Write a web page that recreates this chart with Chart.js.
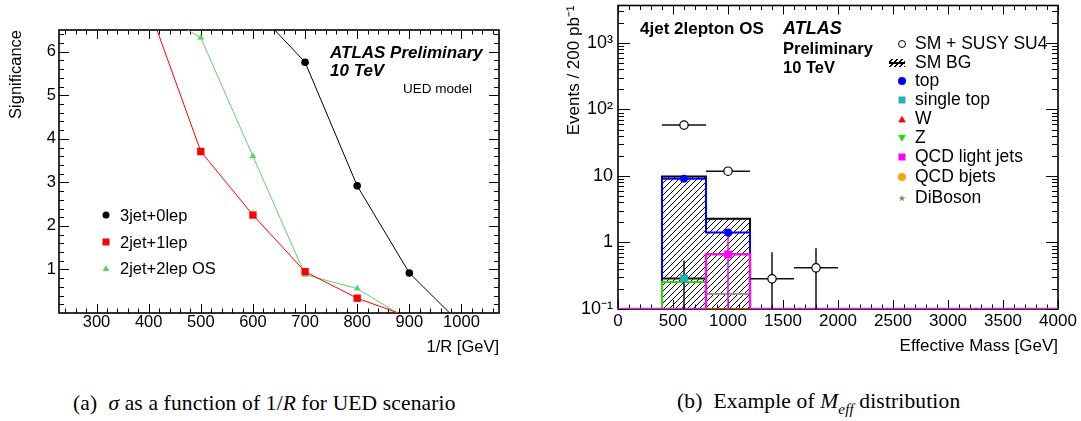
<!DOCTYPE html>
<html>
<head>
<meta charset="utf-8">
<script src="https://cdn.jsdelivr.net/npm/chart.js@4.4.1/dist/chart.umd.min.js"></script>
<style>
  html, body { margin: 0; padding: 0; background: #fff; }
  #page { position: relative; width: 1081px; height: 421px; overflow: hidden;
          font-family: "Liberation Sans", Arial, Helvetica, sans-serif; color: #000; }
  .panel { position: absolute; top: 0; }
  .t { position: absolute; line-height: 1; white-space: nowrap; transform: translateY(-50%); }
  .b { font-weight: bold; }
  .bi { font-weight: bold; font-style: italic; }
  .mk { position: absolute; transform: translate(-50%, -50%); }
  .circ { border-radius: 50%; }
  .tri-up { clip-path: polygon(50% 0, 100% 100%, 0 100%); }
  .tri-dn { clip-path: polygon(0 0, 100% 0, 50% 100%); }
  .star { clip-path: polygon(50% 0, 61% 35%, 98% 35%, 68% 57%, 79% 91%, 50% 70%, 21% 91%, 32% 57%, 2% 35%, 39% 35%); }
  .cap { position: absolute; top: 404px; transform: translateY(-50%); line-height: 1; white-space: nowrap;
         font-family: "Liberation Serif", "Times New Roman", serif; font-size: 21.5px; letter-spacing: 0.15px; }
</style>
</head>
<body>
<div id="page">
  <div class="panel" style="left:0;width:520px;height:360px"><canvas id="ued" width="520" height="360"></canvas></div>
  <div class="panel" style="left:540px;width:541px;height:360px"><canvas id="meff" width="541" height="360"></canvas></div>

  <!-- (a) annotations -->
  <div class="t bi" style="left:330px;top:52px;font-size:17px">ATLAS Preliminary</div>
  <div class="t bi" style="left:330px;top:70px;font-size:17px">10 TeV</div>
  <div class="t" style="left:403px;top:89px;font-size:13.5px">UED model</div>

  <div class="mk circ" style="left:106px;top:215px;width:7px;height:7px;background:#000"></div>
  <div class="mk" style="left:106px;top:242px;width:7px;height:7px;background:#ff0000"></div>
  <div class="mk tri-up" style="left:106px;top:268px;width:7px;height:6px;background:#5ed25e"></div>
  <div class="t" style="left:120px;top:215px;font-size:16.5px">3jet+0lep</div>
  <div class="t" style="left:120px;top:242px;font-size:16.5px">2jet+1lep</div>
  <div class="t" style="left:120px;top:268px;font-size:16.5px">2jet+2lep OS</div>

  <!-- (b) annotations -->
  <div class="t b" style="left:640px;top:28px;font-size:17px">4jet 2lepton OS</div>
  <div class="t bi" style="left:783px;top:28px;font-size:18px">ATLAS</div>
  <div class="t b" style="left:783px;top:47.5px;font-size:16.5px">Preliminary</div>
  <div class="t b" style="left:783px;top:66.5px;font-size:16.5px">10 TeV</div>

  <div class="mk circ" style="left:902px;top:44px;width:6px;height:6px;border:1.2px solid #000;background:#fff"></div>
  <div class="mk" style="left:897px;top:62.7px;width:16px;height:8px;
       background:repeating-linear-gradient(-45deg,#000 0 1px,transparent 1px 3.5px)"></div>
  <div class="mk" style="left:897px;top:62.7px;width:16px;height:2px;background:#000"></div>
  <div class="mk circ" style="left:902px;top:81px;width:8px;height:8px;background:#0000ff"></div>
  <div class="mk" style="left:902px;top:100px;width:7px;height:7px;background:#20b5ae"></div>
  <div class="mk tri-up" style="left:902px;top:119.3px;width:8px;height:7px;background:#ff0000"></div>
  <div class="mk tri-dn" style="left:902px;top:138.3px;width:8px;height:7px;background:#22e000"></div>
  <div class="mk" style="left:902px;top:157.3px;width:7px;height:7px;background:#ff00ff"></div>
  <div class="mk circ" style="left:902px;top:177.3px;width:8px;height:8px;background:#ffa010"></div>
  <div class="mk star" style="left:902px;top:198.3px;width:7px;height:7px;background:#9a7060"></div>
  <div class="t" style="left:915px;top:44px;font-size:17.5px">SM + SUSY SU4</div>
  <div class="t" style="left:915px;top:62.7px;font-size:17.5px">SM BG</div>
  <div class="t" style="left:915px;top:81px;font-size:17.5px">top</div>
  <div class="t" style="left:915px;top:100px;font-size:17.5px">single top</div>
  <div class="t" style="left:915px;top:119.3px;font-size:17.5px">W</div>
  <div class="t" style="left:915px;top:138.3px;font-size:17.5px">Z</div>
  <div class="t" style="left:915px;top:157.3px;font-size:17.5px">QCD light jets</div>
  <div class="t" style="left:915px;top:177.3px;font-size:17.5px">QCD bjets</div>
  <div class="t" style="left:915px;top:198.3px;font-size:17.5px">DiBoson</div>

  <div class="cap" style="left:73px">(a)&nbsp;&nbsp;<i>σ</i> as a function of 1/<i>R</i> for UED scenario</div>
  <div class="cap" style="left:677px">(b)&nbsp;&nbsp;Example of <i>M<sub style="font-size:15px">eff</sub></i> distribution</div>
</div>

<script>
'use strict';

// ── (a) UED significance vs 1/R ──────────────────────────────────────────
// outermost values sit beyond the frame, they just carry the lines to its edge
var R_INV         = [400, 500, 600, 700, 800, 900, 1000];
var SIG_3JET_0LEP = [null, null, 7.03, 5.76, 2.92, 0.92, -0.27];
var SIG_2JET_1LEP = [7.03, 3.71, 2.25, 0.95, 0.34, -0.09, null];
var SIG_2JET_2LEP = [7.05, 6.32, 3.60, 0.88, 0.56, -0.17, null];
var UED_X_TICKS   = [300, 400, 500, 600, 700, 800, 900, 1000];
var UED_Y_TICKS   = [1, 2, 3, 4, 5, 6];
var UED_X_MIN = 228, UED_X_MAX = 1072, UED_Y_MIN = 0, UED_Y_MAX = 6.5;

// ── (b) effective mass, 4jet 2lepton OS ──────────────────────────────────
var MEFF_EDGES     = [0, 400, 800, 1200, 1600, 2000, 2400, 2800, 3200, 3600, 4000];
var SM_BG          = [0, 9.8,  2.28, 0, 0, 0, 0, 0, 0, 0];
var TOP            = [0, 9.06, 1.41, 0, 0, 0, 0, 0, 0, 0];
var SINGLE_TOP     = [0, 0.288, 0,   0, 0, 0, 0, 0, 0, 0];
var SINGLE_TOP_ERR = [0, 0.25,  0,   0, 0, 0, 0, 0, 0, 0];
var Z_JETS         = [0, 0.254, 0,   0, 0, 0, 0, 0, 0, 0];
var DIBOSON        = [0, 0, 0.168,   0, 0, 0, 0, 0, 0, 0];
var QCD_LIGHT      = [0, 0, 0.665,   0, 0, 0, 0, 0, 0, 0];
var QCD_LIGHT_ERR  = [0, 0, 0.75,    0, 0, 0, 0, 0, 0, 0];
var QCD_BJETS      = [0, 0, 0.05,    0, 0, 0, 0, 0, 0, 0];
var SM_SUSY        = [0, 58.2, 11.8, 0.284, 0.416, 0, 0, 0, 0, 0];
var SM_SUSY_ERR    = [0, 0,    0,    0.43,  0.40,  0, 0, 0, 0, 0];
var MEFF_X_TICKS   = [0, 500, 1000, 1500, 2000, 2500, 3000, 3500, 4000];
var MEFF_Y_TICKS   = [0.1, 1, 10, 100, 1000];
var MEFF_Y_LABELS  = ['10\u207B\u00B9', '1', '10', '10\u00B2', '10\u00B3'];
var MEFF_Y_MIN = 0.1, MEFF_Y_MAX = 3660;

var FONT = '"Liberation Sans", Arial, Helvetica, sans-serif';

// ── helpers ──────────────────────────────────────────────────────────────

function pairs(xs, ys) {
    return xs.map(function(x, i) { return {x: x, y: ys[i]}; });
}

function binCentres() {
    return MEFF_EDGES.slice(0, -1).map(function(e, i) { return (e + MEFF_EDGES[i + 1]) / 2; });
}

// step outline of a histogram, dropping to the axis at both ends;
// zero bins are drawn along the axis like ROOT does
function histPoints(values, fullRange) {
    var first = 0, last = values.length - 1;
    if (!fullRange) {
        while (values[first] <= 0) { first++; }
        while (values[last] <= 0) { last--; }
    }
    var pts = [{x: MEFF_EDGES[first], y: MEFF_Y_MIN}];
    for (var i = first; i <= last; i++) {
        pts.push({x: MEFF_EDGES[i], y: Math.max(values[i], MEFF_Y_MIN)});
    }
    pts.push({x: MEFF_EDGES[last + 1], y: Math.max(values[last], MEFF_Y_MIN)});
    pts.push({x: MEFF_EDGES[last + 1], y: MEFF_Y_MIN});
    return pts;
}

function markerPoints(values) {
    var c = binCentres();
    var pts = [];
    values.forEach(function(v, i) { if (v > 0) { pts.push({x: c[i], y: v}); } });
    return pts;
}

// error bars as broken line segments (null y breaks the line)
function errorPoints(values, errs, withX) {
    var c = binCentres();
    var pts = [];
    values.forEach(function(v, i) {
        if (v <= 0) { return; }
        if (withX) {
            pts.push({x: MEFF_EDGES[i], y: v}, {x: MEFF_EDGES[i + 1], y: v}, {x: c[i], y: null});
        }
        if (errs[i] > 0) {
            pts.push({x: c[i], y: Math.max(v - errs[i], MEFF_Y_MIN)}, {x: c[i], y: v + errs[i]}, {x: c[i], y: null});
        }
    });
    return pts;
}

function hatch() {
    var c = document.createElement('canvas');
    c.width = c.height = 6;
    var g = c.getContext('2d');
    g.strokeStyle = '#000';
    g.lineWidth = 1;
    g.beginPath();
    g.moveTo(0, 6); g.lineTo(6, 0);
    g.moveTo(-1, 1); g.lineTo(1, -1);
    g.moveTo(5, 7); g.lineTo(7, 5);
    g.stroke();
    return g.createPattern(c, 'repeat');
}

function range(from, to, step) {
    var out = [];
    for (var v = from; v <= to + 1e-9; v += step) { out.push(Math.round(v * 1000) / 1000); }
    return out;
}

function linTicks(min, max, major, minor, lenMaj, lenMin) {
    return range(Math.ceil(min / minor) * minor, max, minor).map(function(v) {
        var isMajor = Math.abs(v / major - Math.round(v / major)) < 1e-6;
        return [v, isMajor ? lenMaj : lenMin];
    });
}

function logTicks(min, max, lenMaj, lenMin) {
    var out = [];
    for (var p = Math.floor(Math.log10(min)); p <= Math.ceil(Math.log10(max)); p++) {
        for (var k = 1; k <= 9; k++) {
            var v = k * Math.pow(10, p);
            if (v >= min && v <= max) { out.push([v, k === 1 ? lenMaj : lenMin]); }
        }
    }
    return out;
}

// ROOT style frame: box plus inward ticks on all four sides
var rootFrame = {
    id: 'rootFrame',
    beforeDatasetsDraw: function(chart, args, opts) {
        var ctx = chart.ctx, a = chart.chartArea;
        var xs = chart.scales.x, ys = chart.scales.y;
        ctx.save();
        ctx.strokeStyle = '#000';
        ctx.lineWidth = 1;
        ctx.beginPath();
        opts.x.forEach(function(t) {
            var p = Math.round(xs.getPixelForValue(t[0])) + 0.5;
            ctx.moveTo(p, a.bottom); ctx.lineTo(p, a.bottom - t[1]);
            ctx.moveTo(p, a.top); ctx.lineTo(p, a.top + t[1]);
        });
        opts.y.forEach(function(t) {
            var p = Math.round(ys.getPixelForValue(t[0])) + 0.5;
            ctx.moveTo(a.left, p); ctx.lineTo(a.left + t[1], p);
            ctx.moveTo(a.right, p); ctx.lineTo(a.right - t[1], p);
        });
        ctx.stroke();
        ctx.lineWidth = 1.6;
        ctx.strokeRect(a.left, a.top, a.right - a.left, a.bottom - a.top);
        ctx.restore();
    }
};

function fixedAxis(size, vertical) {
    return function(scale) {
        if (vertical) { scale.width = size; } else { scale.height = size; }
        scale.paddingLeft = scale.paddingRight = scale.paddingTop = scale.paddingBottom = 0;
    };
}

function setTicks(values) {
    return function(axis) {
        axis.ticks = values.map(function(v) { return {value: v}; });
    };
}

function baseOptions(pad) {
    return {
        responsive: false,
        animation: false,
        devicePixelRatio: 1,
        layout: {padding: pad},
        plugins: {legend: {display: false}, tooltip: {enabled: false}},
        elements: {line: {tension: 0}}
    };
}

var NO_GRID = {display: false, drawTicks: false};

// ── (a) chart ────────────────────────────────────────────────────────────

function uedSet(ys, color, style, radius) {
    return {
        data: pairs(R_INV, ys),
        borderColor: color,
        borderWidth: 1,
        backgroundColor: color,
        pointStyle: style,
        pointBorderWidth: 0,
        pointRadius: function(c) {
            var y = c.raw && c.raw.y;
            return (y === null || y < UED_Y_MIN || y > UED_Y_MAX) ? 0 : radius;
        },
        fill: false
    };
}

var uedOpts = baseOptions({top: 30, right: 21, left: 0, bottom: 0});
uedOpts.plugins.rootFrame = {
    x: linTicks(UED_X_MIN, UED_X_MAX, 100, 20, 9, 4.5),
    y: linTicks(UED_Y_MIN + 0.2, UED_Y_MAX, 1, 0.2, 10, 5)
};
uedOpts.scales = {
    x: {
        type: 'linear', min: UED_X_MIN, max: UED_X_MAX,
        grid: NO_GRID, border: {display: false},
        afterBuildTicks: setTicks(UED_X_TICKS),
        afterFit: fixedAxis(47, false),
        ticks: {color: '#000', font: {family: FONT, size: 16.5}, padding: 0, maxRotation: 0, autoSkip: false,
                callback: function(v) { return String(v); }},
        title: {display: true, text: '1/R [GeV]', align: 'end', color: '#000',
                font: {family: FONT, size: 16.5}, padding: {top: 0, bottom: 3}}
    },
    y: {
        type: 'linear', min: UED_Y_MIN, max: UED_Y_MAX,
        grid: NO_GRID, border: {display: false},
        afterBuildTicks: setTicks(UED_Y_TICKS),
        afterFit: fixedAxis(59, true),
        ticks: {color: '#000', font: {family: FONT, size: 16.5}, padding: 3,
                callback: function(v) { return String(v); }},
        title: {display: true, text: 'Significance', align: 'end', color: '#000',
                font: {family: FONT, size: 16.5}, padding: {top: 6.5, bottom: 0}}
    }
};

new Chart(document.getElementById('ued'), {
    type: 'line',
    data: {
        datasets: [
            uedSet(SIG_3JET_0LEP, '#000000', 'circle', 3.8),
            uedSet(SIG_2JET_1LEP, '#ff0000', 'rect', 5.2),
            uedSet(SIG_2JET_2LEP, '#5ed25e', 'triangle', 4)
        ]
    },
    options: uedOpts,
    plugins: [rootFrame]
});

// ── (b) chart ────────────────────────────────────────────────────────────

function histSet(values, color, width, fullRange) {
    return {data: histPoints(values, fullRange), stepped: true, borderColor: color, borderWidth: width,
            pointRadius: 0, fill: false, showLine: true};
}

function markerSet(values, color, style, radius) {
    return {data: markerPoints(values), showLine: false, pointStyle: style, pointRadius: radius,
            backgroundColor: color, borderColor: color, pointBorderWidth: 0};
}

function errorSet(values, errs, withX, color, width) {
    return {data: errorPoints(values, errs, withX), showLine: true, spanGaps: false, borderColor: color,
            borderWidth: width, pointRadius: 0, fill: false};
}

var bgSet = histSet(SM_BG, '#000000', 2, false);
bgSet.fill = 'start';
bgSet.backgroundColor = hatch();

var signalMarks = markerSet(SM_SUSY, '#ffffff', 'circle', 4.2);
signalMarks.borderColor = '#000000';
signalMarks.pointBorderWidth = 1.2;

// listed from bottom to top
var meffSets = [
    bgSet,
    histSet(TOP, '#0000ff', 2, false),
    histSet(SINGLE_TOP, '#1a1a1a', 2, false),
    histSet(Z_JETS, '#22e000', 2, false),
    histSet(DIBOSON, '#a89080', 2, false),
    histSet(QCD_LIGHT, '#e81ed0', 2.6, true),
    histSet(QCD_BJETS, '#c04800', 2.2, false),
    errorSet(SINGLE_TOP, SINGLE_TOP_ERR, false, '#111111', 1.5),
    errorSet(QCD_LIGHT, QCD_LIGHT_ERR, false, '#ff00ff', 1.5),
    markerSet(TOP, '#0000ff', 'circle', 4),
    markerSet(SINGLE_TOP, '#20b5ae', 'rect', 5.5),
    markerSet(QCD_LIGHT, '#ff00ff', 'rect', 5.5),
    errorSet(SM_SUSY, SM_SUSY_ERR, true, '#111111', 1.5),
    signalMarks
];
meffSets.forEach(function(d, i) { d.order = meffSets.length - i; });

var meffOpts = baseOptions({top: 4, right: 23, left: 0, bottom: 0});
meffOpts.plugins.rootFrame = {
    x: linTicks(0, 4000, 500, 100, 9, 4.5),
    y: logTicks(MEFF_Y_MIN, MEFF_Y_MAX, 12, 6)
};
meffOpts.scales = {
    x: {
        type: 'linear', min: 0, max: 4000,
        grid: NO_GRID, border: {display: false},
        afterBuildTicks: setTicks(MEFF_X_TICKS),
        afterFit: fixedAxis(51, false),
        ticks: {color: '#000', font: {family: FONT, size: 17}, padding: 2, maxRotation: 0, autoSkip: false,
                callback: function(v) { return String(v); }},
        title: {display: true, text: 'Effective Mass [GeV]', align: 'end', color: '#000',
                font: {family: FONT, size: 17}, padding: {top: 0, bottom: 3}}
    },
    y: {
        type: 'logarithmic', min: MEFF_Y_MIN, max: MEFF_Y_MAX,
        grid: NO_GRID, border: {display: false},
        afterBuildTicks: setTicks(MEFF_Y_TICKS),
        afterFit: fixedAxis(78, true),
        ticks: {color: '#000', font: {family: FONT, size: 18}, padding: 5,
                callback: function(v, i) { return MEFF_Y_LABELS[i]; }},
        title: {display: true, text: 'Events / 200 pb\u207B\u00B9', align: 'end', color: '#000',
                font: {family: FONT, size: 17}, padding: {top: 24, bottom: 0}}
    }
};

new Chart(document.getElementById('meff'), {
    type: 'line',
    data: {datasets: meffSets},
    options: meffOpts,
    plugins: [rootFrame]
});
</script>
</body>
</html>
